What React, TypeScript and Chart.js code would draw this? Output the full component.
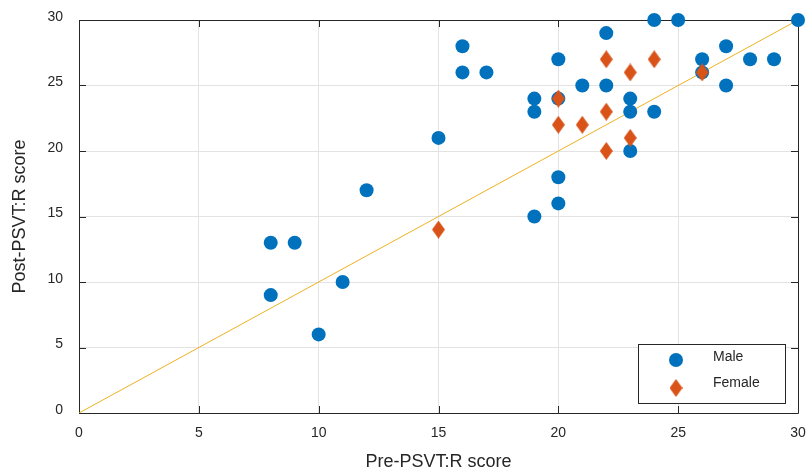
import React, { useEffect, useRef } from "react";
import { Chart, registerables } from "chart.js";

Chart.register(...registerables);

const maleX = [8, 8, 9, 10, 11, 12, 15, 16, 16, 17, 19, 19, 19, 20, 20, 20, 20, 21, 22, 22, 23, 23, 23, 24, 24, 25, 26, 26, 27, 27, 28, 29, 30];
const maleY = [13, 9, 13, 6, 10, 17, 21, 28, 26, 26, 24, 23, 15, 27, 24, 18, 16, 25, 29, 25, 24, 23, 20, 30, 23, 30, 27, 26, 28, 25, 27, 27, 30];
const femaleX = [15, 20, 20, 21, 22, 22, 22, 23, 23, 24, 26];
const femaleY = [14, 24, 22, 22, 27, 23, 20, 26, 21, 27, 26];
const refX = [0, 30];
const refY = [0, 30];
const seriesNames = ["Male", "Female"];
const xTitle = "Pre-PSVT:R score";
const yTitle = "Post-PSVT:R score";
const tickValues = [0, 5, 10, 15, 20, 25, 30];

const BLUE = "#0072BD";
const RED = "#D95319";
const GOLD = "#EDB120";
const AXIS = "#262626";
const FONT = "'Liberation Sans', Arial, Helvetica, sans-serif";

function makeDiamond(w: number, h: number, color: string) {
  const c = document.createElement("canvas");
  c.width = w;
  c.height = h;
  const ctx = c.getContext("2d")!;
  ctx.fillStyle = color;
  ctx.beginPath();
  ctx.moveTo(w / 2, 0);
  ctx.lineTo(w, h / 2);
  ctx.lineTo(w / 2, h);
  ctx.lineTo(0, h / 2);
  ctx.closePath();
  ctx.fill();
  return c;
}

export default function App() {
  const ref = useRef<HTMLCanvasElement | null>(null);
  useEffect(() => {
    if (!ref.current) return;
    const diamond = makeDiamond(13, 18, RED);

    const boxPlugin = {
      id: "matlabBox",
      beforeDatasetsDraw(chart: any) {
        const { ctx, chartArea } = chart;
        const { left, right, top, bottom } = chartArea;
        const xs = chart.scales.x;
        const ys = chart.scales.y;
        ctx.save();
        ctx.strokeStyle = AXIS;
        ctx.lineWidth = 1;
        ctx.beginPath();
        ctx.rect(left + 0.5, top + 0.5, right - left, bottom - top);
        ctx.stroke();
        const tl = 7;
        ctx.beginPath();
        tickValues.forEach((v) => {
          const px = Math.round(xs.getPixelForValue(v)) + 0.5;
          ctx.moveTo(px, bottom);
          ctx.lineTo(px, bottom - tl);
          ctx.moveTo(px, top);
          ctx.lineTo(px, top + tl);
          const py = Math.round(ys.getPixelForValue(v)) + 0.5;
          ctx.moveTo(left, py);
          ctx.lineTo(left + tl, py);
          ctx.moveTo(right, py);
          ctx.lineTo(right - tl, py);
        });
        ctx.stroke();
        ctx.restore();
      },
      afterDatasetsDraw(chart: any) {
        const { ctx, chartArea } = chart;
        const bx = chartArea.left + 559;
        const by = chartArea.top + 324;
        const bw = 147;
        const bh = 59;
        ctx.save();
        ctx.fillStyle = "#ffffff";
        ctx.fillRect(bx, by, bw, bh);
        ctx.strokeStyle = AXIS;
        ctx.lineWidth = 1;
        ctx.strokeRect(bx + 0.5, by + 0.5, bw, bh);
        ctx.fillStyle = BLUE;
        ctx.beginPath();
        ctx.arc(bx + 38, by + 16, 7, 0, Math.PI * 2);
        ctx.fill();
        ctx.drawImage(diamond, bx + 38 - 6.5, by + 44 - 9);
        ctx.fillStyle = AXIS;
        ctx.font = "14px " + FONT;
        ctx.textBaseline = "middle";
        ctx.textAlign = "left";
        ctx.fillText(seriesNames[0], bx + 75, by + 13);
        ctx.fillText(seriesNames[1], bx + 75, by + 39);
        ctx.restore();
      },
    };

    const chart = new Chart(ref.current, {
      type: "scatter",
      data: {
        datasets: [
          {
            type: "line",
            label: "ref",
            data: refX.map((x, i) => ({ x, y: refY[i] })),
            borderColor: GOLD,
            borderWidth: 1,
            pointRadius: 0,
            fill: false,
            order: 3,
          } as any,
          {
            label: seriesNames[0],
            data: maleX.map((x, i) => ({ x, y: maleY[i] })),
            backgroundColor: BLUE,
            borderColor: BLUE,
            pointRadius: 7,
            pointBorderWidth: 0,
            clip: false,
            order: 2,
          },
          {
            label: seriesNames[1],
            data: femaleX.map((x, i) => ({ x, y: femaleY[i] })),
            pointStyle: diamond as any,
            backgroundColor: RED,
            borderColor: RED,
            pointRadius: 9,
            clip: false,
            order: 1,
          },
        ],
      },
      options: {
        animation: false,
        responsive: false,
        maintainAspectRatio: false,
        layout: { padding: { top: 20, right: 7, left: 0, bottom: 0 } },
        plugins: { legend: { display: false }, tooltip: { enabled: false } },
        scales: {
          x: {
            type: "linear",
            min: 0,
            max: 30,
            afterFit: (s: any) => {
              s.height = 59;
              s.paddingLeft = 0;
              s.paddingRight = 0;
            },
            grid: { color: "#e3e3e3", drawTicks: false },
            border: { display: false },
            ticks: {
              stepSize: 5,
              padding: 12,
              color: AXIS,
              font: { family: FONT, size: 14 },
              maxRotation: 0,
            },
            title: {
              display: true,
              text: xTitle,
              color: AXIS,
              font: { family: FONT, size: 18 },
              padding: { top: 0, bottom: -1 },
            },
          },
          y: {
            type: "linear",
            min: 0,
            max: 30,
            afterFit: (s: any) => {
              s.width = 79;
              s.paddingTop = 0;
              s.paddingBottom = 0;
            },
            grid: { color: "#e3e3e3", drawTicks: false },
            border: { display: false },
            ticks: {
              stepSize: 5,
              padding: 16,
              labelOffset: -3,
              color: AXIS,
              font: { family: FONT, size: 14 },
            },
            title: {
              display: true,
              text: yTitle,
              color: AXIS,
              font: { family: FONT, size: 18 },
              padding: { top: 9, bottom: 0 },
            },
          },
        },
      },
      plugins: [boxPlugin],
    });
    return () => chart.destroy();
  }, []);
  return (
    <div style={{ position: "fixed", left: 0, top: 0, width: 808, height: 472, background: "#fff" }}>
      <canvas ref={ref} width={808} height={472} style={{ width: 808, height: 472 }} />
    </div>
  );
}
